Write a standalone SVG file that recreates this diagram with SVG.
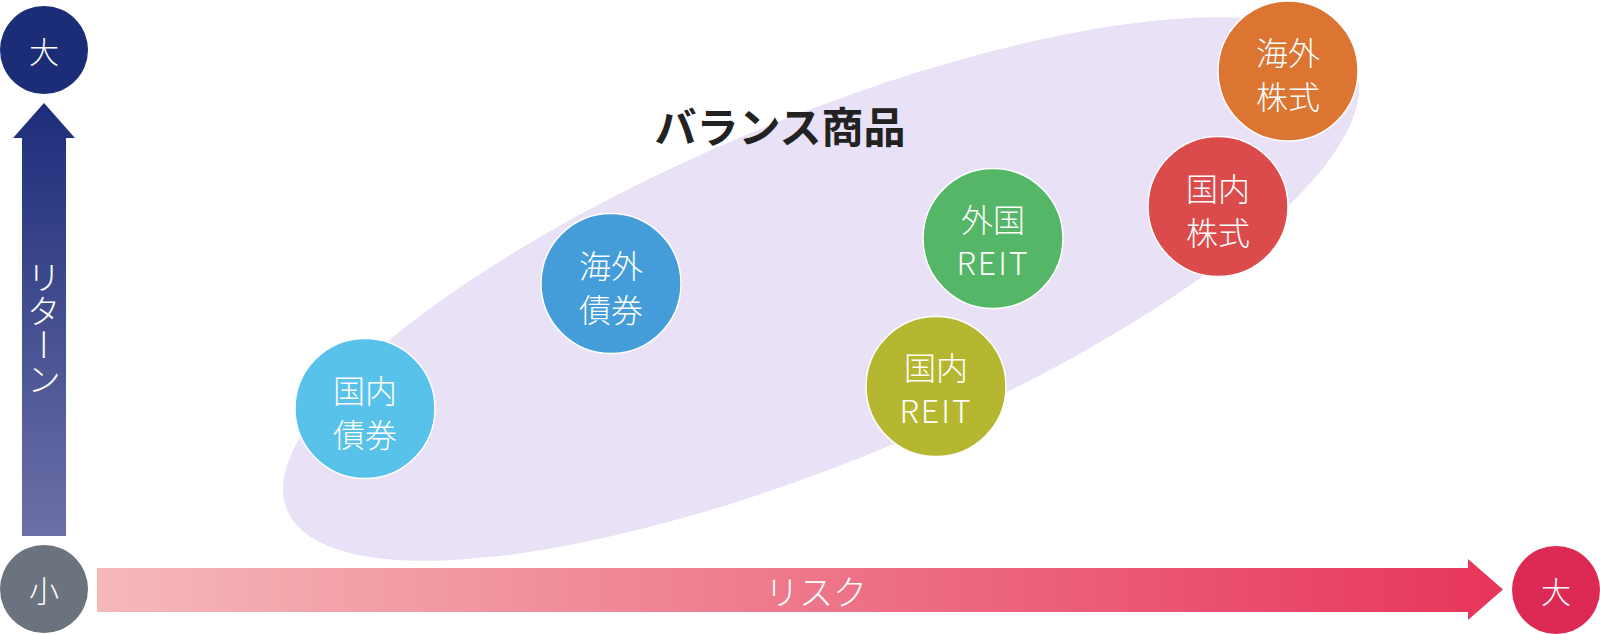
<svg xmlns="http://www.w3.org/2000/svg" width="1600" height="634" viewBox="0 0 1600 634">
<defs>
<linearGradient id="gv" x1="0" y1="103" x2="0" y2="536" gradientUnits="userSpaceOnUse">
<stop offset="0" stop-color="#1c2d7a"/>
<stop offset="1" stop-color="#6c70a7"/>
</linearGradient>
<linearGradient id="gh" x1="97" y1="0" x2="1503" y2="0" gradientUnits="userSpaceOnUse">
<stop offset="0" stop-color="#f5b9b9"/>
<stop offset="1" stop-color="#e7355a"/>
</linearGradient>
<style>
.jp{font-family:"Noto Sans CJK JP","Noto Sans",sans-serif;}
.nl{font-size:32px;font-weight:300;fill:#fff;text-anchor:middle;dominant-baseline:central;}
.node circle{stroke:#fff;stroke-width:1.5;}
.ax{font-size:30px;font-weight:300;fill:#fff;text-anchor:middle;dominant-baseline:central;}
</style>
</defs>
<rect width="1600" height="634" fill="#fff"/>
<ellipse cx="821" cy="289" rx="578" ry="171" transform="rotate(-22.5 821 289)" fill="#e9e1f6"/>
<text class="jp" x="780" y="124" font-size="42" font-weight="bold" fill="#222" text-anchor="middle" dominant-baseline="central">バランス商品</text>
<g id="axes">
<polygon points="44,103 75,138 66,138 66,536 22,536 22,138 13,138" fill="url(#gv)"/>
<text class="jp" x="44" y="328" font-size="34" font-weight="300" fill="#fff" text-anchor="middle" style="writing-mode:vertical-rl">リターン</text>
<polygon points="97,568 1468,568 1468,559 1503,589.5 1468,620 1468,612 97,612" fill="url(#gh)"/>
<text class="jp" x="816" y="590" font-size="34" font-weight="300" fill="#fff" text-anchor="middle" dominant-baseline="central">リスク</text>
</g>
<g id="ret-high"><circle cx="44" cy="50" r="44" fill="#1b2d77"/><text class="jp ax" x="44" y="50">大</text></g>
<g id="low"><circle cx="44" cy="589" r="44" fill="#6b737e"/><text class="jp ax" x="44" y="589">小</text></g>
<g id="risk-high"><circle cx="1556" cy="590" r="44" fill="#dc2a55"/><text class="jp ax" x="1556" y="590">大</text></g>
<g id="n1" class="node"><circle cx="365" cy="408.5" r="70" fill="#58c2ea"/><text class="jp nl" x="365" y="389">国内</text><text class="jp nl" x="365" y="433">債券</text></g>
<g id="n2" class="node"><circle cx="611" cy="283.5" r="70" fill="#449dd9"/><text class="jp nl" x="611" y="264">海外</text><text class="jp nl" x="611" y="308">債券</text></g>
<g id="n3" class="node"><circle cx="993" cy="238.5" r="70" fill="#55b667"/><text class="jp nl" x="993" y="218">外国</text><text class="jp nl" x="993" y="261" letter-spacing="2">REIT</text></g>
<g id="n4" class="node"><circle cx="936" cy="386.5" r="70" fill="#b6b730"/><text class="jp nl" x="936" y="366">国内</text><text class="jp nl" x="936" y="409" letter-spacing="2">REIT</text></g>
<g id="n5" class="node"><circle cx="1218" cy="206.5" r="70" fill="#dc4b4c"/><text class="jp nl" x="1218" y="187">国内</text><text class="jp nl" x="1218" y="231">株式</text></g>
<g id="n6" class="node"><circle cx="1288" cy="71" r="70" fill="#dc7532"/><text class="jp nl" x="1288" y="51">海外</text><text class="jp nl" x="1288" y="95">株式</text></g>
</svg>
